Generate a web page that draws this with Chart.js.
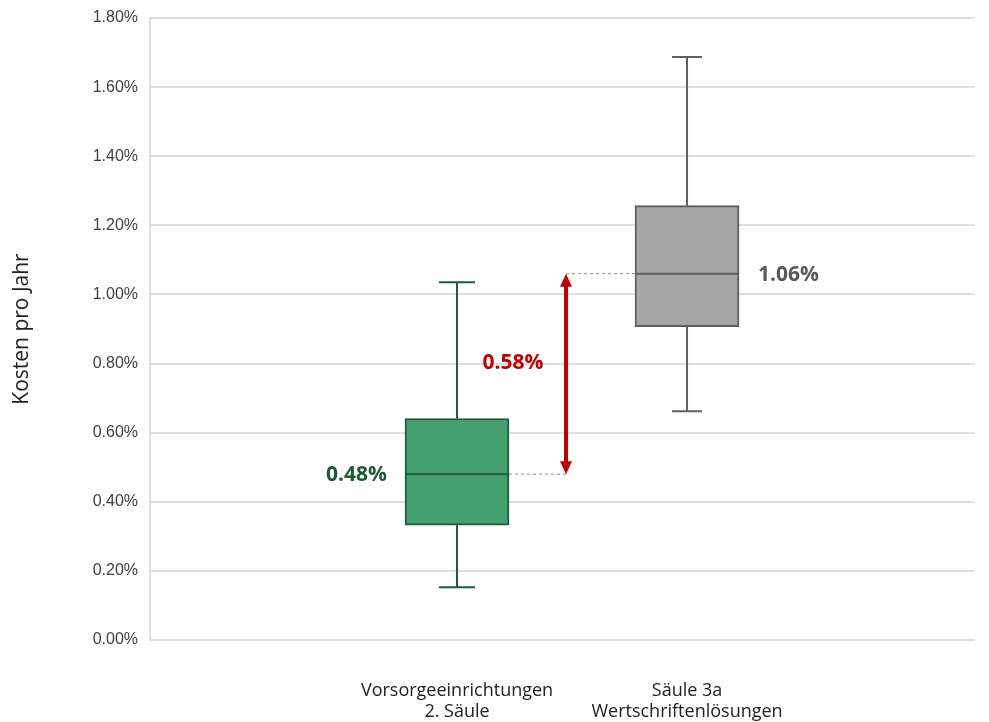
<!DOCTYPE html>
<html>
<head>
<meta charset="utf-8">
<script src="https://cdn.jsdelivr.net/npm/chart.js@4.4.1/dist/chart.umd.min.js"></script>
<style>
  html, body { margin: 0; padding: 0; background: #fff; }
  #wrap { width: 989px; height: 722px; }
</style>
</head>
<body>
<div id="wrap"><canvas id="c" width="989" height="722"></canvas></div>
<script>
// Annual cost distribution per pension vehicle (percent)
const categories = [["Vorsorgeeinrichtungen", "2. Säule"], ["Säule 3a", "Wertschriftenlösungen"]];
const positions = [1, 2];
const whiskerLow = [0.153, 0.662];
const quartile1 = [0.332, 0.907];
const medians = [0.48, 1.06];
const quartile3 = [0.641, 1.257];
const whiskerHigh = [1.035, 1.687];
const medianLabels = ["0.48%", "1.06%"];
const gapLabel = "0.58%";
const yTicks = [0, 0.2, 0.4, 0.6, 0.8, 1.0, 1.2, 1.4, 1.6, 1.8];

const fills = ["#44a071", "#a6a6a6"];
const strokes = ["#1f5b3c", "#5f5f5f"];
const labelColors = ["#1d5a34", "#595959"];

const boxData = positions.map((p, i) => ({ x: p, y: [quartile1[i], quartile3[i]] }));

const boxPlotExtras = {
  id: 'boxPlotExtras',
  afterDatasetsDraw(chart) {
    const ctx = chart.ctx;
    const xs = chart.scales.x, ys = chart.scales.y;
    const meta = chart.getDatasetMeta(0);
    ctx.save();
    positions.forEach((p, i) => {
      const cx = xs.getPixelForValue(p);
      const bar = meta.data[i];
      const half = bar.width / 2;
      ctx.strokeStyle = strokes[i];
      ctx.lineWidth = 2;
      // whisker stems
      ctx.beginPath();
      ctx.moveTo(cx, ys.getPixelForValue(quartile3[i]));
      ctx.lineTo(cx, ys.getPixelForValue(whiskerHigh[i]));
      ctx.moveTo(cx, ys.getPixelForValue(quartile1[i]));
      ctx.lineTo(cx, ys.getPixelForValue(whiskerLow[i]));
      ctx.stroke();
      // caps
      const cap = i === 0 ? 18 : 15;
      ctx.beginPath();
      ctx.moveTo(cx - cap, ys.getPixelForValue(whiskerHigh[i]));
      ctx.lineTo(cx + cap, ys.getPixelForValue(whiskerHigh[i]));
      ctx.moveTo(cx - cap, ys.getPixelForValue(whiskerLow[i]));
      ctx.lineTo(cx + cap, ys.getPixelForValue(whiskerLow[i]));
      ctx.stroke();
      // median line
      const my = ys.getPixelForValue(medians[i]);
      ctx.beginPath();
      ctx.moveTo(cx - half, my);
      ctx.lineTo(cx + half, my);
      ctx.stroke();
    });

    // difference arrow between the two medians
    const b0 = meta.data[0], b1 = meta.data[1];
    const ax = (b0.x + b0.width / 2 + b1.x - b1.width / 2) / 2 - 6;
    const yLow = ys.getPixelForValue(medians[0]);
    const yHigh = ys.getPixelForValue(medians[1]);
    ctx.strokeStyle = "#8c8c8c";
    ctx.lineWidth = 1;
    ctx.setLineDash([3, 3]);
    ctx.beginPath();
    ctx.moveTo(b0.x + b0.width / 2, yLow);
    ctx.lineTo(ax, yLow);
    ctx.moveTo(ax, yHigh);
    ctx.lineTo(b1.x - b1.width / 2, yHigh);
    ctx.stroke();
    ctx.setLineDash([]);

    const red = "#c00000";
    const head = 13;
    ctx.strokeStyle = red;
    ctx.fillStyle = red;
    ctx.lineWidth = 4;
    ctx.beginPath();
    ctx.moveTo(ax, yHigh + head - 2);
    ctx.lineTo(ax, yLow - head + 2);
    ctx.stroke();
    ctx.beginPath();
    ctx.moveTo(ax, yHigh);
    ctx.lineTo(ax - 6, yHigh + head);
    ctx.lineTo(ax + 6, yHigh + head);
    ctx.closePath();
    ctx.fill();
    ctx.beginPath();
    ctx.moveTo(ax, yLow);
    ctx.lineTo(ax - 6, yLow - head);
    ctx.lineTo(ax + 6, yLow - head);
    ctx.closePath();
    ctx.fill();

    // value labels
    ctx.font = "bold 21px 'Open Sans', sans-serif";
    ctx.textBaseline = "middle";
    ctx.fillStyle = red;
    ctx.textAlign = "center";
    ctx.fillText(gapLabel, ax - 53, ys.getPixelForValue((medians[0] + medians[1]) / 2) - 11);
    ctx.fillStyle = labelColors[0];
    ctx.textAlign = "right";
    ctx.fillText(medianLabels[0], b0.x - b0.width / 2 - 18, yLow + 1);
    ctx.fillStyle = labelColors[1];
    ctx.textAlign = "left";
    ctx.fillText(medianLabels[1], b1.x + b1.width / 2 + 19, yHigh + 1);
    ctx.restore();
  }
};

new Chart(document.getElementById('c'), {
  type: 'bar',
  data: {
    datasets: [{
      data: boxData,
      backgroundColor: fills,
      borderColor: strokes,
      borderWidth: 2,
      borderSkipped: false,
      barThickness: 104
    }]
  },
  options: {
    responsive: false,
    animation: false,
    layout: { padding: { top: 18, right: 14, left: 0, bottom: 0 } },
    plugins: { legend: { display: false }, tooltip: { enabled: false } },
    scales: {
      x: {
        type: 'linear',
        offset: false,
        min: -0.3348,
        max: 3.252,
        grid: { display: false, offset: false },
        border: { display: false },
        afterBuildTicks(scale) { scale.ticks = positions.map(v => ({ value: v })); },
        afterFit(scale) { scale.height = 82; },
        ticks: {
          padding: 32,
          maxRotation: 0,
          autoSkip: false,
          color: "#222",
          font: { family: "'Open Sans', sans-serif", size: 18, lineHeight: 1.17 },
          callback(v) {
            const i = positions.indexOf(v);
            return i >= 0 ? categories[i] : '';
          }
        }
      },
      y: {
        min: 0,
        max: 1.8,
        afterBuildTicks(scale) { scale.ticks = yTicks.map(v => ({ value: v })); },
        afterFit(scale) {
          scale.width = 150;
          scale.paddingTop = 0;
          scale.paddingBottom = 0;
        },
        grid: { color: "#dedede", lineWidth: 2, drawTicks: false },
        border: { display: true, color: "#dedede", width: 2 },
        ticks: {
          padding: 12,
          color: "#404040",
          font: { family: "'Liberation Sans', Arial, sans-serif", size: 16 },
          callback(v) { return v.toFixed(2) + '%'; }
        },
        title: {
          display: true,
          text: "Kosten pro Jahr",
          color: "#222",
          padding: { top: 9, bottom: 27 },
          font: { family: "'Open Sans', sans-serif", size: 21 }
        }
      }
    }
  },
  plugins: [boxPlotExtras]
});
</script>
</body>
</html>
